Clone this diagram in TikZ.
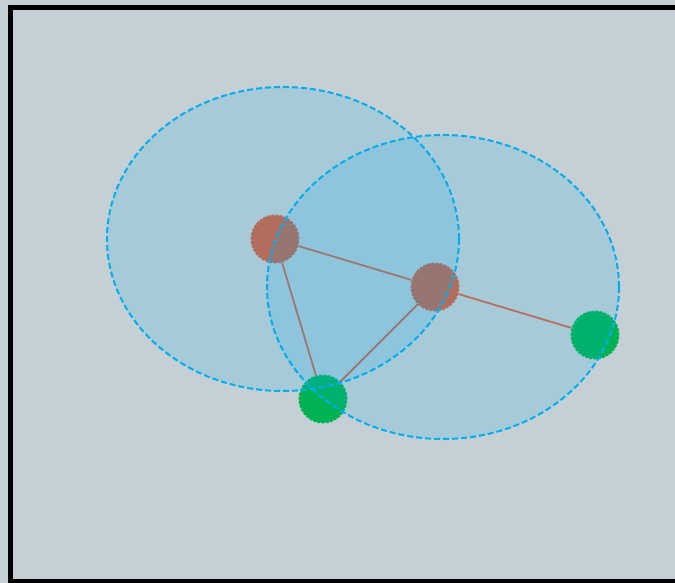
\documentclass[tikz,border=0pt]{standalone}
\usetikzlibrary{shapes.geometric}
\definecolor{bg}{RGB}{197,208,214}
\definecolor{brownnode}{RGB}{210,98,68}
\definecolor{greennode}{RGB}{0,178,84}
\definecolor{edgecol}{RGB}{214,100,70}
\definecolor{cyanline}{RGB}{0,174,239}
\begin{document}
\begin{tikzpicture}[x=1pt,y=-1pt,
  dot/.style={circle,minimum size=47pt,inner sep=0pt,line width=2pt,dash pattern=on 3pt off 1.2pt},
  browndot/.style={dot,fill=brownnode,draw=brownnode},
  greendot/.style={dot,fill=greennode,draw=greennode},
  link/.style={draw=edgecol,line width=1.8pt},
  zone/.style={ellipse,minimum width=352pt,minimum height=304pt,inner sep=0pt,draw=cyanline,line width=2pt,dash pattern=on 6pt off 3pt,fill=cyanline,fill opacity=0.15,draw opacity=1}
]
\fill[bg] (0,0) rectangle (675,583);
\useasboundingbox (0,0) rectangle (675,583);
\begin{scope}
\clip (0,0) rectangle (675,583);
\draw[line width=5pt] (10.5,7.5) rectangle (720,581);
\end{scope}
\node[browndot] (a) at (275,239) {};
\node[browndot] (b) at (435,287) {};
\node[greendot] (c) at (323,399) {};
\node[greendot] (d) at (595,335) {};
\draw[link] (a) -- (b);
\draw[link] (a) -- (c);
\draw[link] (b) -- (c);
\draw[link] (b) -- (d);
\node[zone] (e1) at (283,239) {};
\node[zone] (e2) at (443,287) {};
\end{tikzpicture}
\end{document}
